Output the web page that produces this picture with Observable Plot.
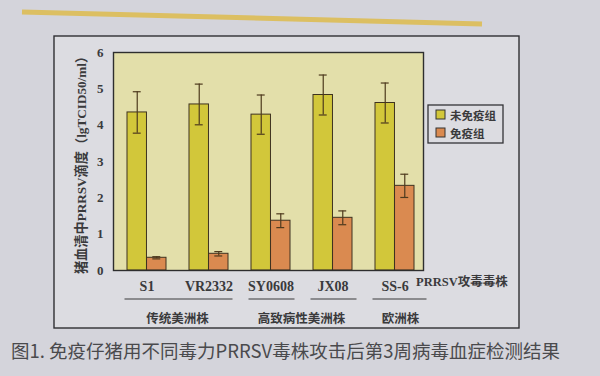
<!DOCTYPE html>
<html>
<head>
<meta charset="utf-8">
<script src="https://cdn.jsdelivr.net/npm/d3@7"></script>
<script src="https://cdn.jsdelivr.net/npm/@observablehq/plot@0.6"></script>
<style>
  html, body { margin: 0; padding: 0; background: #d4d4db; width: 600px; height: 376px; overflow: hidden; }
  #wrap { position: relative; width: 600px; height: 376px; }
  #caption { position: absolute; left: 11px; top: 337px; font-family: "Noto Sans CJK SC", "Noto Sans", sans-serif; font-size: 18.5px; color: #4a4a4d; white-space: nowrap; line-height: 26px; }
</style>
</head>
<body>
<div id="wrap"><div id="chart"></div><div id="caption">图1. 免疫仔猪用不同毒力PRRSV毒株攻击后第3周病毒血症检测结果</div></div>
<script>
// ---- data ----
const strains = ["S1", "VR2332", "SY0608", "JX08", "SS-6"];
const seriesNames = ["未免疫组", "免疫组"];
const seriesColors = ["#d2c73a", "#da8a50"];
const unvacc = [4.35, 4.57, 4.29, 4.83, 4.61];
const unvaccErr = [0.57, 0.56, 0.54, 0.55, 0.55];
const vacc = [0.35, 0.46, 1.37, 1.45, 2.33];
const vaccErr = [0.03, 0.06, 0.19, 0.19, 0.32];
const yTicks = [0, 1, 2, 3, 4, 5, 6];
const groupNames = ["传统美洲株", "高致病性美洲株", "欧洲株"];
const groupMembers = [["S1", "VR2332"], ["SY0608", "JX08"], ["SS-6"]];
const underlineSets = [["S1", "VR2332"], ["SY0608"], ["JX08"], ["SS-6"]];
const yTitle = "猪血清中PRRSV滴度（lgTCID50/ml）";
const xTitle = "PRRSV攻毒毒株";

// ---- layout ----
const W = 600, H = 334;
const mL = 113, mR = 177, mT = 52, mB = 64;
const pIn = 0.37, pOut = 0.185;
const step = (W - mL - mR) / (strains.length - pIn + 2 * pOut);
const bw = step * (1 - pIn);
const capHalf = 4;

const rowsU = strains.map((s, i) => ({strain: s, value: unvacc[i], err: unvaccErr[i]}));
const rowsV = strains.map((s, i) => ({strain: s, value: vacc[i], err: vaccErr[i]}));

const edge = "#3e3220";
const errColor = "#4e3a1e";

function errMarks(rows, side) {
  const c = side < 0 ? bw / 4 : 3 * bw / 4;
  const ins = {insetLeft: c - capHalf, insetRight: bw - c - capHalf};
  return [
    Plot.ruleX(rows, {x: "strain", y1: d => d.value - d.err, y2: d => d.value + d.err, dx: side * bw / 4, stroke: errColor, strokeWidth: 1.2}),
    Plot.tickY(rows, {x: "strain", y: d => d.value + d.err, ...ins, stroke: errColor, strokeWidth: 1.2}),
    Plot.tickY(rows, {x: "strain", y: d => d.value - d.err, ...ins, stroke: errColor, strokeWidth: 1.2})
  ];
}

const plot = Plot.plot({
  width: W, height: H,
  marginLeft: mL, marginRight: mR, marginTop: mT, marginBottom: mB,
  style: {background: "transparent", fontFamily: "'Liberation Serif', 'DejaVu Serif', serif", fontWeight: "bold", fontSize: "13px", color: "#3a3a3c", overflow: "visible"},
  x: {domain: strains, paddingInner: pIn, paddingOuter: pOut, align: 0.6, label: null, tickSize: 0, tickPadding: 11},
  y: {domain: [0, 6], ticks: yTicks, tickFormat: d => String(d), label: null, tickSize: 0, tickPadding: 10},
  marks: [
    Plot.frame({fill: "#e3dfaa", stroke: null}),
    Plot.barY(rowsU, {x: "strain", y1: 0, y2: "value", fill: seriesColors[0], stroke: edge, strokeWidth: 1, insetLeft: 0, insetRight: bw / 2}),
    Plot.barY(rowsV, {x: "strain", y1: 0, y2: "value", fill: seriesColors[1], stroke: edge, strokeWidth: 1, insetLeft: bw / 2, insetRight: 0}),
    ...errMarks(rowsU, -1),
    ...errMarks(rowsV, 1),
    Plot.frame({stroke: "#2e2e2e", strokeWidth: 1.4})
  ]
});
document.getElementById("chart").appendChild(plot);

// ---- decorations using the plot's own scales ----
const svg = d3.select(plot);
// slightly larger strain labels
svg.selectAll("[aria-label='x-axis tick label'] text, [aria-label='x-axis'] text").attr("font-size", 14);
const xs = plot.scale("x");
const center = s => xs.apply(s) + xs.bandwidth / 2;
const ys = plot.scale("y");
const y0 = ys.apply(0), yTop = ys.apply(6);

// outer panel box and gold rule behind everything
const bg = svg.insert("g", ":first-child");
bg.append("line").attr("x1", 22).attr("x2", 482).attr("y1", 12).attr("y2", 24)
  .attr("stroke", "#dcbf62").attr("stroke-width", 5);
bg.append("rect").attr("x", 54).attr("y", 36).attr("width", 465).attr("height", 292)
  .attr("fill", "#dcdce1").attr("stroke", "#2f2f33").attr("stroke-width", 1.4);

// y-axis title
svg.append("text")
  .attr("transform", `translate(81,${(y0 + yTop) / 2 + 1}) rotate(-90)`)
  .attr("text-anchor", "middle").attr("dominant-baseline", "central")
  .attr("font-family", "'Liberation Serif', 'Noto Sans CJK SC', serif")
  .attr("font-size", 13.2).attr("font-weight", "bold").attr("fill", "#3a3a3c")
  .text(yTitle);

// x title to the right of the last label
svg.append("text")
  .attr("x", xs.apply(strains[strains.length - 1]) + xs.bandwidth + 2)
  .attr("y", y0 + 16)
  .attr("text-anchor", "start")
  .attr("font-family", "'Liberation Serif', 'Noto Sans CJK SC', serif")
  .attr("font-size", 12.5).attr("font-weight", "bold").attr("fill", "#3a3a3c")
  .text(xTitle);

// underlines below the strain labels
underlineSets.forEach((set, i) => {
  const extra = i === underlineSets.length - 1 ? 8 : 0;
  svg.append("line")
    .attr("x1", center(set[0]) - 22).attr("x2", center(set[set.length - 1]) + 24 + extra)
    .attr("y1", y0 + 29).attr("y2", y0 + 29)
    .attr("stroke", "#3a3a3c").attr("stroke-width", 1.2);
});

// group labels
groupNames.forEach((g, i) => {
  const m = groupMembers[i];
  const cx = d3.mean(m, center) + (m.length === 1 ? 6 : 0);
  svg.append("text")
    .attr("x", cx).attr("y", y0 + 47)
    .attr("text-anchor", "middle").attr("dominant-baseline", "central")
    .attr("font-family", "'Noto Sans CJK SC', sans-serif")
    .attr("font-size", 12.5).attr("font-weight", "bold").attr("fill", "#3a3a3c")
    .text(g);
});

// legend box
const lg = svg.append("g").attr("transform", `translate(${W - mR + 5},105)`);
lg.append("rect").attr("width", 75).attr("height", 38)
  .attr("fill", "#dcdce1").attr("stroke", "#333336").attr("stroke-width", 1.3);
seriesNames.forEach((name, i) => {
  lg.append("rect").attr("x", 8).attr("y", 5 + i * 18).attr("width", 9).attr("height", 9)
    .attr("fill", seriesColors[i]).attr("stroke", "#333").attr("stroke-width", 1);
  lg.append("text").attr("x", 22).attr("y", 10 + i * 18)
    .attr("text-anchor", "start")
    .attr("dominant-baseline", "central")
    .attr("font-family", "'Noto Sans CJK SC', sans-serif")
    .attr("font-size", 11.5).attr("font-weight", "bold").attr("fill", "#3a3a3c")
    .text(name);
});
</script>
</body>
</html>
